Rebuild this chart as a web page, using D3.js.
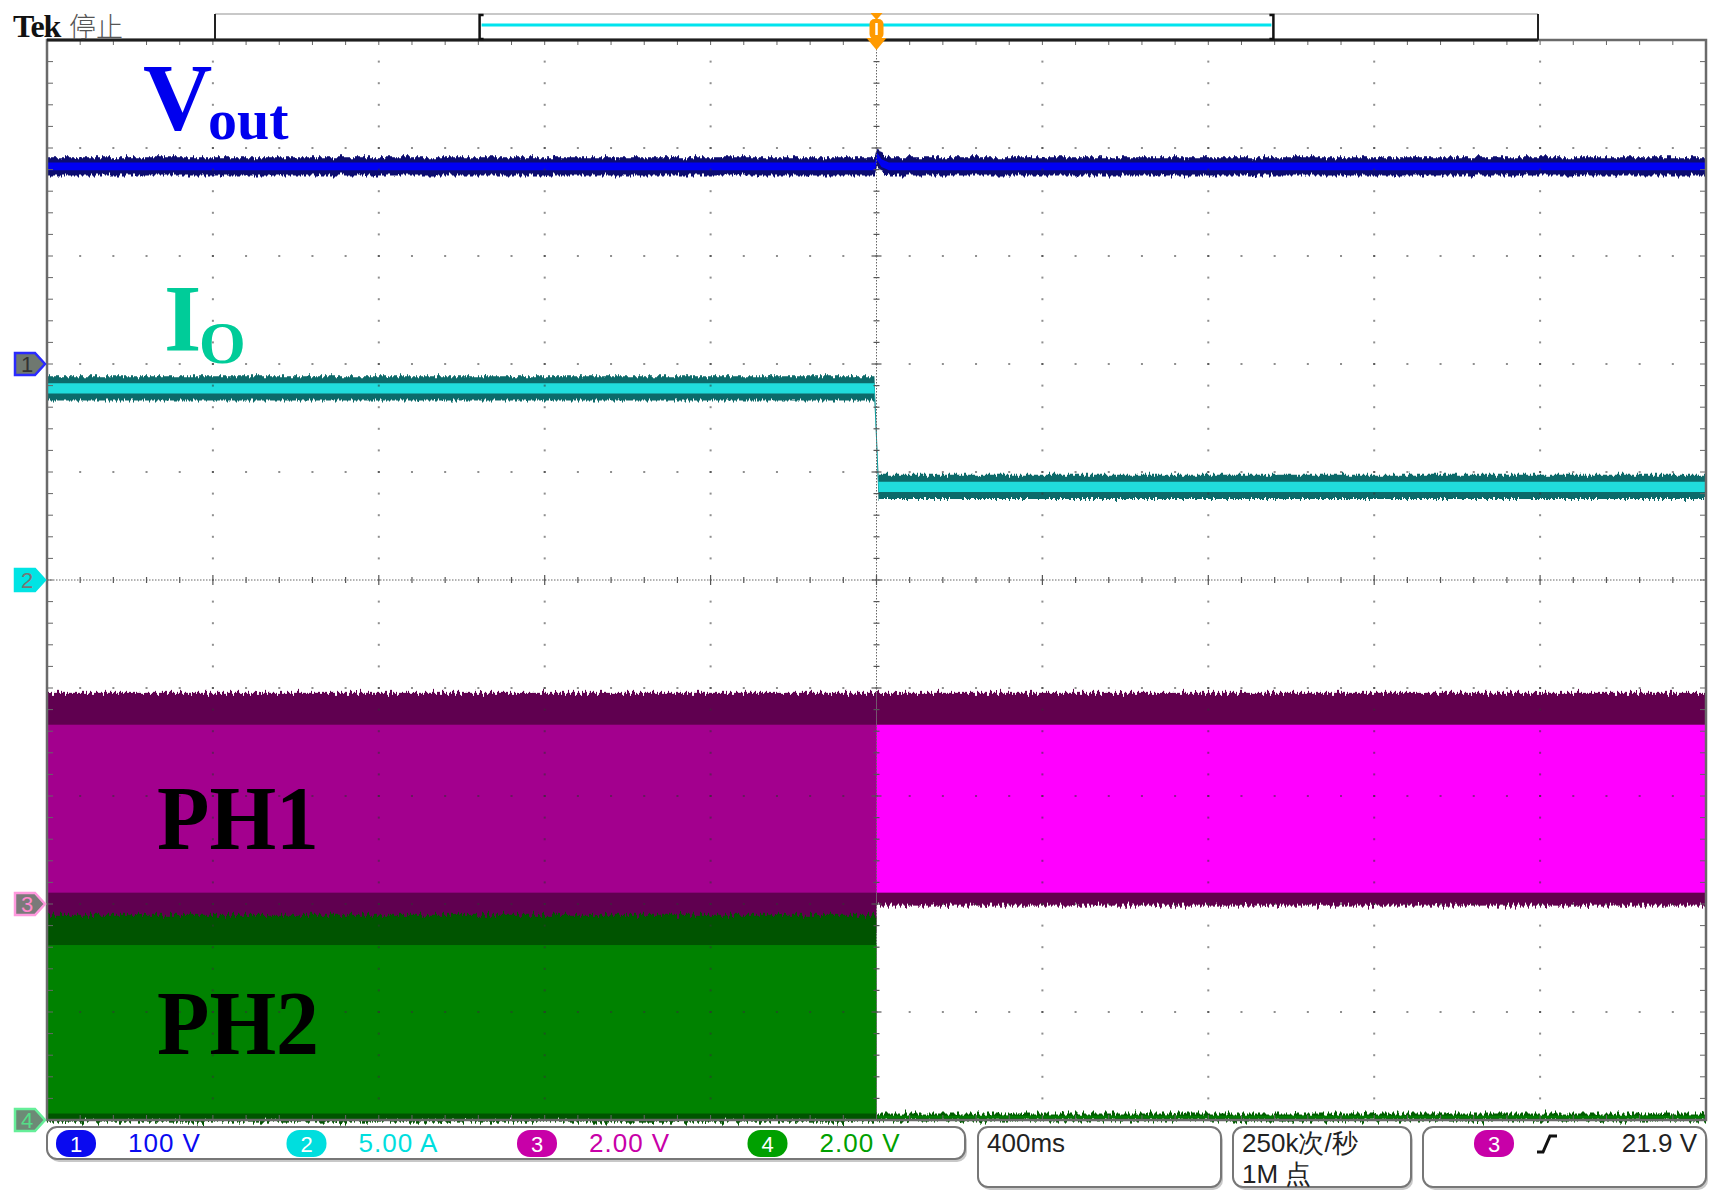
<!DOCTYPE html>
<meta charset="utf-8">
<style>
    body {
        margin: 0;
        background: #fff;
    }

    svg {
        display: block;
    }

    .readout text {
        font-family: "Liberation Sans", Arial, sans-serif;
        font-size: 26px;
    }

    .label {
        font-family: "Liberation Serif", "Times New Roman", serif;
        font-weight: bold;
    }
</style>

<body>
    <script src="https://d3js.org/d3.v7.min.js"></script>
    <script>

        // horizontal: 400 ms/div, trigger in the middle of the screen
        var secPerDiv = 0.4;
        var xDivs = 10, yDivs = 10;

        // channel settings
        var channels = ["1", "2", "3", "4"];
        var perDiv = [100, 5, 2, 2];
        var units = ["V", "A", "V", "V"];
        var offsetDiv = [2, 0, -3, -5];   // ground marker, divisions from centre

        // Vout (ch1), volts: band centre + half width of envelope / bright core
        var voutT = [-2, -0.004, 0.002, 0.012, 0.03, 2];
        var voutV = [183, 183, 192, 186, 183, 183];
        var voutSpread = [8.5, 3.5];

        // Io (ch2), amps
        var ioT = [-2, -0.005, 0.005, 2];
        var ioA = [8.87, 8.87, 4.31, 4.31];
        var ioSpread = [0.56, 0.24];

        // PH1 (ch3) / PH2 (ch4) PWM envelopes, before and after the step, volts
        var phSegT = [[-2, 0], [0, 2]];
        var ph1Top = [3.91, 3.91], ph1CoreTop = [3.32, 3.32], ph1CoreBot = [0.21, 0.21], ph1Bot = [-0.5, -0.03];
        var ph2Top = [3.8, 0.12], ph2CoreTop = [3.24, 0.08], ph2CoreBot = [0.12, 0.03], ph2Bot = [-0.03, -0.01];

        // readouts
        var recordView = [0.2, 0.8];
        var sampleRate = "250k次/秒", recordLen = "1M 点";
        var trigSource = "3", trigLevel = "21.9 V";

        var width = 1719, height = 1200;
        var plot = { left: 47, right: 1706, top: 40, bottom: 1120 };

        var colors = ["#0a0af0", "#00dede", "#c800a8", "#00a000"];

        var svg = d3.select("body").append("svg")
            .attr("width", width)
            .attr("height", height);

        var defs = svg.append("defs");
        function fuzz(id, scale, freq) {
            var f = defs.append("filter").attr("id", id)
                .attr("filterUnits", "userSpaceOnUse")
                .attr("x", 0).attr("y", 0).attr("width", width).attr("height", height)
                .attr("color-interpolation-filters", "sRGB");
            f.append("feTurbulence").attr("type", "fractalNoise")
                .attr("baseFrequency", freq).attr("numOctaves", 2).attr("seed", 7).attr("result", "n");
            f.append("feColorMatrix").attr("in", "n").attr("type", "matrix")
                .attr("values", "0 0 0 0 0.5  0 1 0 0 0  0 0 0 0 0  0 0 0 0 1").attr("result", "m");
            f.append("feDisplacementMap").attr("in", "SourceGraphic").attr("in2", "m")
                .attr("scale", scale).attr("xChannelSelector", "R").attr("yChannelSelector", "G");
        }
        fuzz("fuzzS", 9, "0.45 0.01");
        fuzz("fuzzL", 14, "0.4 0.01");

        // scales in divisions
        var gx = d3.scaleLinear().domain([-xDivs / 2, xDivs / 2]).range([plot.left, plot.right]);
        var gy = d3.scaleLinear().domain([yDivs / 2, -yDivs / 2]).range([plot.top, plot.bottom]);
        var x = d3.scaleLinear().domain([-xDivs / 2 * secPerDiv, xDivs / 2 * secPerDiv]).range([plot.left, plot.right]);
        var y = channels.map(function (c, i) {
            return d3.scaleLinear()
                .domain([(-yDivs / 2 - offsetDiv[i]) * perDiv[i], (yDivs / 2 - offsetDiv[i]) * perDiv[i]])
                .range([plot.bottom, plot.top]);
        });

        // ---- traces ----
        var traces = svg.append("g");

        function band(ch, ts, vs, spread, outer, core, filt) {
            var pts = ts.map(function (t, i) { return { t: t, v: vs[i] }; });
            var a = function (s) {
                return d3.area().x(function (d) { return x(d.t); })
                    .y0(function (d) { return y[ch](d.v - s); })
                    .y1(function (d) { return y[ch](d.v + s); });
            };
            traces.append("path").attr("d", a(spread[0])(pts)).attr("fill", outer).attr("filter", "url(#" + filt + ")");
            traces.append("path").attr("d", a(spread[1])(pts)).attr("fill", core);
        }

        function pwm(ch, top, coreTop, coreBot, bot, edge, core) {
            phSegT.forEach(function (seg, i) {
                traces.append("rect")
                    .attr("x", x(seg[0])).attr("width", x(seg[1]) - x(seg[0]))
                    .attr("y", y[ch](top[i])).attr("height", y[ch](bot[i]) - y[ch](top[i]))
                    .attr("fill", edge[i]).attr("filter", "url(#fuzzL)");
                traces.append("rect")
                    .attr("x", x(seg[0])).attr("width", x(seg[1]) - x(seg[0]))
                    .attr("y", y[ch](coreTop[i])).attr("height", y[ch](coreBot[i]) - y[ch](coreTop[i]))
                    .attr("fill", core[i]);
            });
        }

        pwm(2, ph1Top, ph1CoreTop, ph1CoreBot, ph1Bot, ["#600050", "#62004e"], ["#a3008e", "#ff00ff"]);
        pwm(3, ph2Top, ph2CoreTop, ph2CoreBot, ph2Bot, ["#005400", "#005c00"], ["#008200", "#007c00"]);
        band(0, voutT, voutV, voutSpread, "#0c0c70", "#0000f2", "fuzzS");
        band(1, ioT, ioA, ioSpread, "#0c6a6a", "#20dcdc", "fuzzS");

        // ---- graticule ----
        var grid = svg.append("g");
        var minors = d3.range(-5, 5.001, 0.2);
        var majors = [-4, -3, -2, -1, 1, 2, 3, 4];

        majors.forEach(function (i) {
            minors.forEach(function (m) {
                grid.append("rect").attr("x", gx(i) - 1).attr("y", gy(m) - 1)
                    .attr("width", 2).attr("height", 2).attr("fill", "#333").attr("opacity", 0.55);
                grid.append("rect").attr("x", gx(m) - 1).attr("y", gy(i) - 1)
                    .attr("width", 2).attr("height", 2).attr("fill", "#333").attr("opacity", 0.55);
            });
        });

        // centre cross
        grid.append("line").attr("x1", gx(-5)).attr("x2", gx(5)).attr("y1", gy(0)).attr("y2", gy(0))
            .attr("stroke", "#666").attr("stroke-dasharray", "1.5,1.5");
        grid.append("line").attr("x1", gx(0)).attr("x2", gx(0)).attr("y1", gy(5)).attr("y2", gy(-5))
            .attr("stroke", "#666").attr("stroke-dasharray", "1.5,1.5");
        minors.forEach(function (m) {
            var big = Math.abs(m - Math.round(m)) < 1e-6 ? 5 : 3;
            grid.append("line").attr("x1", gx(m)).attr("x2", gx(m)).attr("y1", gy(0) - big).attr("y2", gy(0) + big)
                .attr("stroke", "#555").attr("stroke-width", 1.2);
            grid.append("line").attr("y1", gy(m)).attr("y2", gy(m)).attr("x1", gx(0) - big).attr("x2", gx(0) + big)
                .attr("stroke", "#555").attr("stroke-width", 1.2);
            // border ticks
            grid.append("line").attr("x1", gx(m)).attr("x2", gx(m)).attr("y1", plot.top).attr("y2", plot.top + 5).attr("stroke", "#666");
            grid.append("line").attr("x1", gx(m)).attr("x2", gx(m)).attr("y1", plot.bottom).attr("y2", plot.bottom - 5).attr("stroke", "#666");
            grid.append("line").attr("y1", gy(m)).attr("y2", gy(m)).attr("x1", plot.left).attr("x2", plot.left + 6).attr("stroke", "#666");
            grid.append("line").attr("y1", gy(m)).attr("y2", gy(m)).attr("x1", plot.right).attr("x2", plot.right - 6).attr("stroke", "#666");
        });

        grid.append("rect").attr("x", plot.left).attr("y", plot.top)
            .attr("width", plot.right - plot.left).attr("height", plot.bottom - plot.top)
            .attr("fill", "none").attr("stroke", "#6a6a6a").attr("stroke-width", 2.5);

        // ---- record bar and trigger marker ----
        var rec = d3.scaleLinear().domain([0, 1]).range([215, 1538]);
        var bar = svg.append("g");
        bar.append("line").attr("x1", rec(0)).attr("x2", rec(1)).attr("y1", 14).attr("y2", 14).attr("stroke", "#c8c8c8").attr("stroke-width", 2);
        bar.append("line").attr("x1", plot.left).attr("x2", rec(1)).attr("y1", plot.top).attr("y2", plot.top).attr("stroke", "#1e1e1e").attr("stroke-width", 3);
        [0, 1].forEach(function (e) {
            bar.append("line").attr("x1", rec(e)).attr("x2", rec(e)).attr("y1", 14).attr("y2", plot.top).attr("stroke", "#222").attr("stroke-width", 2);
        });
        bar.append("line").attr("x1", rec(recordView[0]) + 2).attr("x2", rec(recordView[1]) - 2).attr("y1", 25).attr("y2", 25)
            .attr("stroke", "#00e4ee").attr("stroke-width", 3);
        recordView.forEach(function (v, i) {
            var xx = rec(v), d = i === 0 ? 4 : -4;
            bar.append("path").attr("d", "M" + (xx + d) + ",15H" + xx + "V39H" + (xx + d))
                .attr("fill", "none").attr("stroke", "#111").attr("stroke-width", 2.5);
        });
        var tx = x(0);
        bar.append("path").attr("d", "M" + (tx - 6) + ",13L" + (tx + 6) + ",13L" + tx + ",20Z").attr("fill", "#ff9a00");
        bar.append("rect").attr("x", tx - 7).attr("y", 19).attr("width", 14).attr("height", 20).attr("rx", 5).attr("fill", "#ff9a00");
        bar.append("line").attr("x1", tx).attr("x2", tx).attr("y1", 23).attr("y2", 35).attr("stroke", "#fff").attr("stroke-width", 2.5);
        bar.append("path").attr("d", "M" + (tx - 10) + ",38L" + (tx + 10) + ",38L" + tx + ",50Z").attr("fill", "#ff9a00");

        svg.append("text").attr("x", 13).attr("y", 37)
            .style("font-family", "'Liberation Serif', serif").style("font-weight", "bold")
            .style("font-size", "32px").style("letter-spacing", "-1px").attr("fill", "#111").text("Tek");
        svg.append("text").attr("x", 69).attr("y", 37)
            .style("font-family", "'Noto Sans CJK SC', sans-serif").style("font-size", "27px")
            .style("font-weight", 300).attr("fill", "#555").text("停止");

        // ---- channel ground markers ----
        var markFill = ["#6f7870", "#00e4e4", "#7a7a7a", "#6d8a76"];
        var markEdge = ["#2a2aff", "#00e4e4", "#ff99dd", "#66ee99"];
        var markText = ["#333", "#777", "#ff88cc", "#55dd88"];
        channels.forEach(function (c, i) {
            var yy = y[i](0);
            svg.append("path")
                .attr("d", "M15," + (yy - 11) + "H35L45," + yy + "L35," + (yy + 11) + "H15Z")
                .attr("fill", markFill[i]).attr("stroke", markEdge[i]).attr("stroke-width", 2.5);
            svg.append("text").attr("x", 27).attr("y", yy + 8).attr("text-anchor", "middle")
                .style("font-family", "'Liberation Sans', sans-serif").style("font-size", "22px")
                .attr("fill", markText[i]).text(c);
        });

        // ---- trace labels ----
        var lab = svg.append("g").attr("class", "label");
        var vl = lab.append("text").attr("x", 143).attr("y", 130).attr("fill", "#0000ee");
        vl.append("tspan").style("font-size", "96px").text("V");
        vl.append("tspan").attr("x", 208).attr("y", 139).style("font-size", "58px").text("out");
        var il = lab.append("text").attr("x", 164).attr("y", 351).attr("fill", "#00cc99");
        il.append("tspan").style("font-size", "96px").text("I");
        il.append("tspan").attr("x", 199).attr("y", 363).style("font-size", "60px").text("O");
        lab.append("text").attr("x", 157).attr("y", 849).style("font-size", "92px")
            .attr("textLength", 162).attr("lengthAdjust", "spacingAndGlyphs").attr("fill", "#000").text("PH1");
        lab.append("text").attr("x", 157).attr("y", 1054).style("font-size", "92px")
            .attr("textLength", 162).attr("lengthAdjust", "spacingAndGlyphs").attr("fill", "#000").text("PH2");

        // ---- readout boxes ----
        var ro = svg.append("g").attr("class", "readout");
        var boxes = [[47, 965, 1127, 1159], [978, 1221, 1127, 1187], [1233, 1411, 1127, 1187], [1423, 1706, 1127, 1187]];
        boxes.forEach(function (b) {
            ro.append("rect").attr("x", b[0] + 2).attr("y", b[2] + 3).attr("width", b[1] - b[0]).attr("height", b[3] - b[2])
                .attr("rx", 10).attr("fill", "#c8c8c8");
            ro.append("rect").attr("x", b[0]).attr("y", b[2]).attr("width", b[1] - b[0]).attr("height", b[3] - b[2])
                .attr("rx", 10).attr("fill", "#fff").attr("stroke", "#777").attr("stroke-width", 2);
        });

        function pill(cx, ch) {
            ro.append("rect").attr("x", cx - 20).attr("y", 1130).attr("width", 40).attr("height", 27).attr("rx", 13)
                .attr("fill", colors[ch]);
            ro.append("text").attr("x", cx).attr("y", 1152).attr("text-anchor", "middle")
                .style("font-size", "22px").attr("fill", "#fff").text(channels[ch]);
        }
        var fmt = d3.format(".3r");
        channels.forEach(function (c, i) {
            var cx = 76 + i * 230.5;
            pill(cx, i);
            ro.append("text").attr("x", cx + 52).attr("y", 1152).attr("fill", colors[i])
                .style("letter-spacing", "1px").text(fmt(perDiv[i]) + " " + units[i]);
        });

        ro.append("text").attr("x", 987).attr("y", 1152).attr("fill", "#222").text(secPerDiv * 1000 + "ms");
        ro.append("text").attr("x", 1242).attr("y", 1152).attr("fill", "#222").text(sampleRate);
        ro.append("text").attr("x", 1242).attr("y", 1183).attr("fill", "#222").text(recordLen);

        pill(1494, +trigSource - 1);
        ro.append("path").attr("d", "M1537,1152H1543L1550,1136H1557")
            .attr("fill", "none").attr("stroke", "#111").attr("stroke-width", 3);
        ro.append("text").attr("x", 1697).attr("y", 1152).attr("text-anchor", "end").attr("fill", "#222").text(trigLevel);

    </script>
</body>
